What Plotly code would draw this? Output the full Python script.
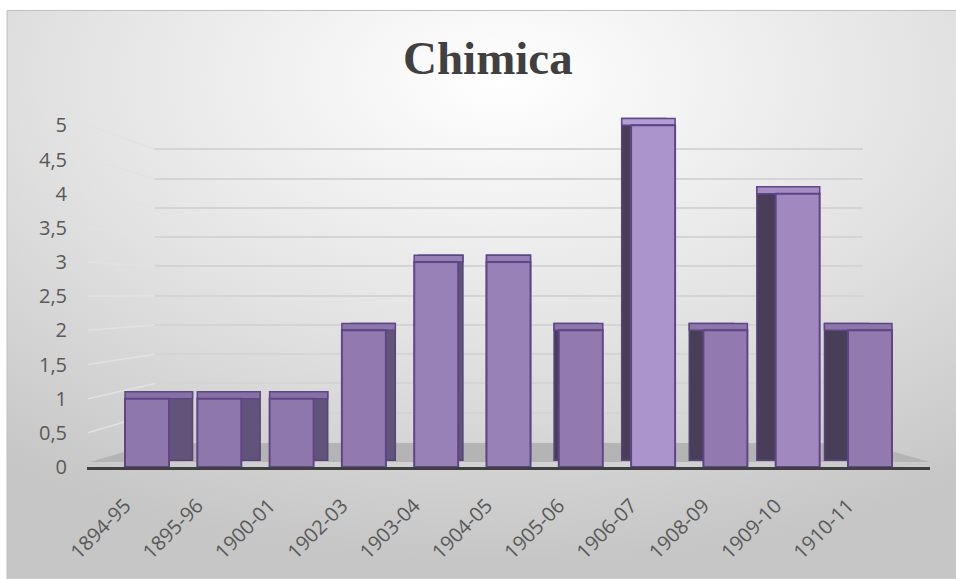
import base64
import plotly.graph_objects as go

# ---- data ----
categories = ["1894-95", "1895-96", "1900-01", "1902-03", "1903-04", "1904-05",
              "1905-06", "1906-07", "1908-09", "1909-10", "1910-11"]
values = [1, 1, 1, 2, 3, 3, 2, 5, 2, 4, 2]
y_ticks = [0, 0.5, 1, 1.5, 2, 2.5, 3, 3.5, 4, 4.5, 5]
y_tick_labels = ["0", "0,5", "1", "1,5", "2", "2,5", "3", "3,5", "4", "4,5", "5"]
title_text = "Chimica"

# ---- geometry (pixels) ----
W, H = 956, 579
PL, PR = 87, 930          # plot area left/right
P0 = 467                  # pixel of y=0
PX_PER_UNIT = 68.4
Y_MAX = 5.4
PT = P0 - Y_MAX * PX_PER_UNIT
pw, ph = PR - PL, P0 - PT

n = len(categories)
X_LO, X_HI = -0.83, n - 1 + 0.83
px_per_cat = pw / (X_HI - X_LO)

# back wall (grid) scale
BACK0, BACK5 = 442, 149
bu = (BACK0 - BACK5) / 5.0
yb_lo = -(P0 - BACK0) / bu
yb_hi = (BACK0 - PT) / bu
grid_left, grid_right = 155, 863


def paper_x(px):
    return (px - PL) / pw


def paper_y(py):
    return (P0 - py) / ph


def mix(c1, c2, t):
    a = [int(c1[i:i + 2], 16) for i in (1, 3, 5)]
    b = [int(c2[i:i + 2], 16) for i in (1, 3, 5)]
    return "#" + "".join(f"{round(x + (y - x) * t):02x}" for x, y in zip(a, b))


# perspective shift of each column's back face
mid = 5
front_w = 44 / px_per_cat
depth_px = 4.7
shift = [(mid - i) * depth_px / px_per_cat for i in range(n)]
back_offsets = [-front_w / 2 + s for s in shift]
back_colors = ["#62537a" if i <= mid else "#483e58" for i in range(n)]
top_offsets = [min(-front_w / 2, -front_w / 2 + s) for s in shift]
top_widths = [front_w + abs(s) for s in shift]
lift = 0.1
vmax = max(values)
front_colors = [mix("#8e77ab", "#ab93cb", max(0.0, (v - 1) / (vmax - 1)) ** 1.5) for v in values]
top_colors = [mix("#8671a4", "#b49ed6", max(0.0, (v - 1) / (vmax - 1)) ** 1.5) for v in values]

fig = go.Figure()

# invisible trace on the back-wall axes (grid only)
fig.add_trace(go.Scatter(x=[None], y=[None], xaxis="x", yaxis="y",
                         showlegend=False, hoverinfo="skip"))

# back faces (sides)
fig.add_trace(go.Bar(
    x=list(range(n)), y=values, base=[lift] * n,
    width=[front_w] * n, offset=back_offsets,
    marker=dict(color=back_colors, line=dict(color="#56447a", width=1.5)),
    xaxis="x2", yaxis="y2", hoverinfo="skip", showlegend=False,
))
# top faces
fig.add_trace(go.Bar(
    x=list(range(n)), y=[lift] * n, base=values,
    width=top_widths, offset=top_offsets,
    marker=dict(color=top_colors, line=dict(color="#5e4686", width=1.5)),
    xaxis="x2", yaxis="y2", hoverinfo="skip", showlegend=False,
))
# front faces
fig.add_trace(go.Bar(
    x=list(range(n)), y=values,
    width=[front_w] * n, offset=[-front_w / 2] * n,
    marker=dict(color=front_colors, line=dict(color="#5e4686", width=2)),
    xaxis="x2", yaxis="y2", showlegend=False,
    customdata=categories, hovertemplate="%{customdata}: %{y}<extra></extra>",
))

# background gradient
svg = (
    "<svg xmlns='http://www.w3.org/2000/svg' width='949' height='569' preserveAspectRatio='none'>"
    "<defs><radialGradient id='g' cx='52%' cy='12%' r='85%' fx='52%' fy='12%'>"
    "<stop offset='0' stop-color='#ffffff'/>"
    "<stop offset='0.55' stop-color='#e2e2e2'/>"
    "<stop offset='1' stop-color='#c6c6c6'/>"
    "</radialGradient></defs>"
    "<rect width='949' height='569' fill='url(#g)'/></svg>"
)
src = "data:image/svg+xml;base64," + base64.b64encode(svg.encode()).decode()

shapes = [
    # floor
    dict(type="path", xref="paper", yref="paper",
         path=f"M {paper_x(grid_left)},{paper_y(443)} L {paper_x(grid_right)},{paper_y(443)} "
              f"L {paper_x(930)},{paper_y(462)} L {paper_x(90)},{paper_y(462)} Z",
         fillcolor="#b4b4b4", line=dict(width=0), layer="below"),
    # chart frame
    dict(type="rect", xref="paper", yref="paper",
         x0=paper_x(7), x1=paper_x(W + 5), y0=paper_y(H + 5), y1=paper_y(10),
         line=dict(color="#bfbfbf", width=1), fillcolor="rgba(0,0,0,0)", layer="below"),
]
# side-wall grid segments joining the value labels to the back wall
for v in y_ticks[1:]:
    shapes.append(dict(
        type="line", xref="paper", yref="paper",
        x0=paper_x(88), y0=paper_y(P0 - v * PX_PER_UNIT),
        x1=paper_x(grid_left), y1=paper_y(BACK0 - v * bu),
        line=dict(color="#e2e2e2", width=1.5), layer="below"))

tick_font = dict(family="Open Sans", size=20, color="#595959")

fig.update_layout(
    template="none",
    width=W, height=H,
    margin=dict(l=PL, r=W - PR, t=PT, b=H - P0, pad=0),
    paper_bgcolor="white",
    plot_bgcolor="rgba(0,0,0,0)",
    barmode="overlay",
    showlegend=False,
    images=[dict(source=src, xref="paper", yref="paper",
                 x=paper_x(7), y=paper_y(10),
                 sizex=(W - 7) / pw, sizey=(H - 10) / ph,
                 sizing="stretch", layer="below", xanchor="left", yanchor="top")],
    shapes=shapes,
    annotations=[dict(text=f"<b>{title_text}</b>", xref="paper", yref="paper",
                      x=paper_x(488), y=paper_y(58), xanchor="center", yanchor="middle",
                      showarrow=False,
                      font=dict(family="Liberation Serif", size=47, color="#404040"))],
    # back wall axes: grid only
    xaxis=dict(domain=[paper_x(grid_left), paper_x(grid_right)], range=[0, 1],
               visible=False, showgrid=False, zeroline=False, automargin=False),
    yaxis=dict(range=[yb_lo, yb_hi], tickmode="array", tickvals=y_ticks,
               showticklabels=False, showgrid=True, gridcolor="#d4d4d4", gridwidth=1.5,
               zeroline=False, showline=False, ticks="", automargin=False),
    # category / value axes for the columns
    xaxis2=dict(
        domain=[0, 1], anchor="y2",
        range=[X_LO, X_HI], tickmode="array", tickvals=list(range(n)), ticktext=categories,
        tickangle=-45, showgrid=False, zeroline=False,
        showline=True, linecolor="#404040", linewidth=3,
        tickfont=tick_font, ticks="", automargin=False,
        ticklabelstandoff=16, ticklabelshift=-22,
    ),
    yaxis2=dict(
        overlaying="y", anchor="x2", side="left",
        range=[0, Y_MAX], tickmode="array", tickvals=y_ticks, ticktext=y_tick_labels,
        showgrid=False, zeroline=False, showline=False, ticks="",
        ticklabelstandoff=19, tickfont=tick_font, automargin=False,
    ),
)

fig.write_html("out.html", config={"displayModeBar": False},
               post_script="document.body.style.margin='0px';")
